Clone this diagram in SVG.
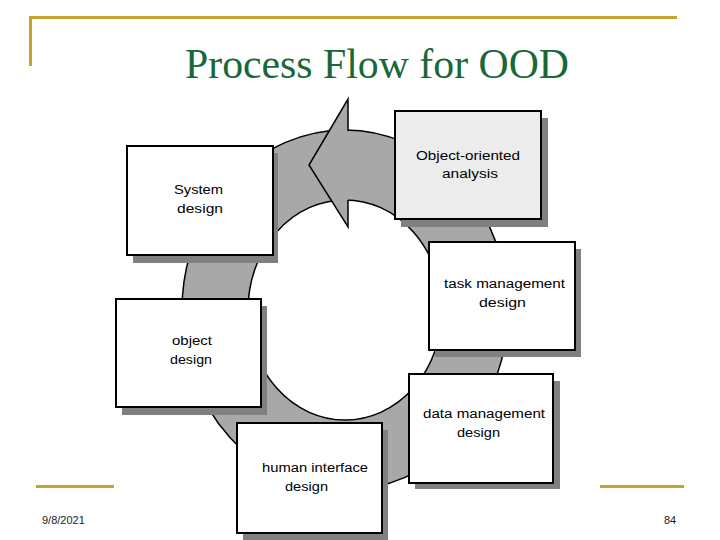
<svg xmlns="http://www.w3.org/2000/svg" width="720" height="540" viewBox="0 0 720 540">
<style>
.gold{fill:#c4a22c}
.title{font-family:"Liberation Serif",serif;font-size:42px;fill:#18683a}
.foot{font-family:"Liberation Sans Narrow","Liberation Sans",sans-serif;font-size:11px;fill:#222}
.ring{fill:#a8a8a8;stroke:#000;stroke-width:1.5}
.shadow{fill:#808080}
.box{fill:#fff;stroke:#000;stroke-width:2}
.lbl{font-family:"Liberation Sans",sans-serif;font-size:12.5px;fill:#000}
</style>
<rect width="720" height="540" fill="#fff"/>
<rect class="gold" x="29" y="16" width="648" height="3"/>
<rect class="gold" x="29" y="16" width="3" height="50"/>
<rect class="gold" x="36" y="485" width="78" height="3"/>
<rect class="gold" x="600" y="485" width="84" height="3"/>
<text class="title" x="377" y="78" text-anchor="middle" textLength="384" lengthAdjust="spacingAndGlyphs">Process Flow for OOD</text>
<text class="foot" x="42" y="524">9/8/2021</text>
<text class="foot" x="664" y="524">84</text>
<g id="connectors">
<path class="ring" fill-rule="evenodd" d="M182,310 A163,180 0 1 0 508,310 A163,180 0 1 0 182,310 Z M248,310 A97,110 0 1 0 442,310 A97,110 0 1 0 248,310 Z"/>
<polygon points="348,99 309,165 348,227" fill="#a8a8a8"/>
<polyline points="348,131 348,99 309,165 348,227 348,200" fill="none" stroke="#000" stroke-width="1.5"/>
</g>
<g id="ooa">
<rect class="shadow" x="401" y="118" width="147" height="109"/>
<rect class="box" x="395" y="111" width="146" height="108" style="fill:#ececec"/>
<text class="lbl" x="416" y="160" textLength="104" lengthAdjust="spacingAndGlyphs">Object-oriented</text>
<text class="lbl" x="442" y="178" textLength="56" lengthAdjust="spacingAndGlyphs">analysis</text>
</g>
<g id="system">
<rect class="shadow" x="133" y="153" width="145" height="110"/>
<rect class="box" x="127" y="146" width="146" height="109"/>
<text class="lbl" x="174" y="194" textLength="49" lengthAdjust="spacingAndGlyphs">System</text>
<text class="lbl" x="177" y="213" textLength="46" lengthAdjust="spacingAndGlyphs">design</text>
</g>
<g id="task">
<rect class="shadow" x="435" y="249" width="146" height="108"/>
<rect class="box" x="429" y="242" width="146" height="108"/>
<text class="lbl" x="444" y="288" textLength="121" lengthAdjust="spacingAndGlyphs">task management</text>
<text class="lbl" x="479" y="307" textLength="47" lengthAdjust="spacingAndGlyphs">design</text>
</g>
<g id="object">
<rect class="shadow" x="122" y="306" width="145" height="109"/>
<rect class="box" x="116" y="299" width="145" height="108"/>
<text class="lbl" x="172" y="345" textLength="40" lengthAdjust="spacingAndGlyphs">object</text>
<text class="lbl" x="170" y="364" textLength="42" lengthAdjust="spacingAndGlyphs">design</text>
</g>
<g id="data">
<rect class="shadow" x="415" y="381" width="145" height="108"/>
<rect class="box" x="409" y="374" width="144" height="109"/>
<text class="lbl" x="423" y="418" textLength="122" lengthAdjust="spacingAndGlyphs">data management</text>
<text class="lbl" x="457" y="437" textLength="43" lengthAdjust="spacingAndGlyphs">design</text>
</g>
<g id="human">
<rect class="shadow" x="243" y="430" width="145" height="110"/>
<rect class="box" x="237" y="423" width="145" height="110"/>
<text class="lbl" x="262" y="472" textLength="106" lengthAdjust="spacingAndGlyphs">human interface</text>
<text class="lbl" x="285" y="491" textLength="43" lengthAdjust="spacingAndGlyphs">design</text>
</g>
</svg>
